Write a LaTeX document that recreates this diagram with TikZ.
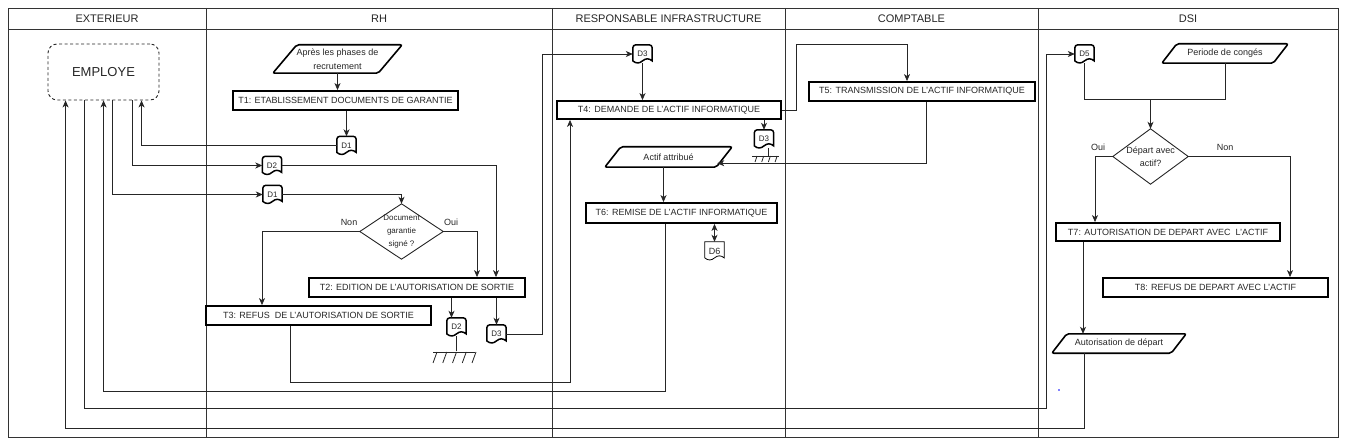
\documentclass[tikz,border=0pt]{standalone}
\usepackage{fontspec}
\setmainfont{Liberation Sans}
\usetikzlibrary{arrows.meta,calc}
\newcommand\docfrm[3][]{%
 \draw[docfr,#1] let \p1=(#2.north west), \p2=(#2.south east), \n1={\y1-\y2}, \n2={\x2-\x1}, \n3={0.25*\n1} in
  (\x1,{\y2+0.5*\n3}) [rounded corners=#3] -- (\x1,\y1) -- (\x2,\y1) [sharp corners] -- (\x2,{\y2+0.5*\n3})
  .. controls ({\x2-\n2/6},{\y2+1.1*\n3}) and ({\x1+\n2/2+\n2/6},{\y2+1.1*\n3}) .. ({\x1+\n2/2},{\y2+0.5*\n3})
  .. controls ({\x1+\n2/3},{\y2-0.1*\n3}) and ({\x1+\n2/6},{\y2-0.1*\n3}) .. (\x1,{\y2+0.5*\n3}) -- cycle;}
\newcommand\iofrm[2]{\draw[iofr] (#1.south west) -- ([xshift=-#2pt]#1.south east) -- (#1.north east) -- ([xshift=#2pt]#1.north west) -- cycle;}
\newcommand\diafrm[1]{\draw[diafr] (#1.north) -- (#1.east) -- (#1.south) -- (#1.west) -- cycle;}
\begin{document}
\begin{tikzpicture}[x=1pt,y=-1pt,
  lane/.style={draw=black!80,line width=0.9pt},
  hdr/.style={font=\fontsize{11}{13}\selectfont,text=black!85},
  task/.style={draw=black,line width=1.8pt,minimum height=19pt,inner sep=0pt,font=\fontsize{9}{10}\selectfont,text=black!85},
  ionode/.style={inner sep=0pt,font=\fontsize{9}{13.5}\selectfont,align=center,text=black!85},
  iofr/.style={draw=black,line width=1.6pt,rounded corners=2pt},
  diafr/.style={draw=black!85,line width=0.9pt},
  docnode/.style={inner sep=0pt,minimum width=19pt,minimum height=18pt,font=\fontsize{8}{9}\selectfont,text=black!85},
  docfr/.style={draw=black,line width=1.5pt},
  conn/.style={draw=black!85,line width=0.8pt},
  arr/.style={conn,-{Stealth[length=7pt,width=6pt,inset=2pt]}},
  lbl/.style={font=\fontsize{9}{10}\selectfont,text=black!85},
]
\useasboundingbox (0,0) rectangle (1348,446);
% frame and lanes
\draw[lane] (8,8) rectangle (1338,437);
\draw[lane] (8,29) -- (1338,29);
\foreach \x in {206,552,785,1038} \draw[lane] (\x,8) -- (\x,437);
\node[hdr] (h1) at (107,18.5) {EXTERIEUR};
\node[hdr] (h2) at (379,18.5) {RH};
\node[hdr] (h3) at (668.5,18.5) {RESPONSABLE INFRASTRUCTURE};
\node[hdr] (h4) at (911.5,18.5) {COMPTABLE};
\node[hdr] (h5) at (1188,18.5) {DSI};
% employe
\node[draw=black!85,dash pattern=on 3pt off 2.5pt,rounded corners=9pt,line width=0.9pt,minimum width=111pt,minimum height=56pt,font=\fontsize{13}{15}\selectfont,text=black!85] (emp) at (103.5,72) {EMPLOYE};
% tasks
\node[task,minimum width=225pt] (t1) at (345.5,100.5) {T1: ETABLISSEMENT DOCUMENTS DE GARANTIE};
\node[task,minimum width=216pt] (t2) at (417,287.5) {T2: EDITION DE L'AUTORISATION DE SORTIE};
\node[task,minimum width=225pt] (t3) at (318.5,315.5) {T3: REFUS\ \ DE L'AUTORISATION DE SORTIE};
\node[task,minimum width=224pt,minimum height=18pt] (t4) at (669,110) {T4: DEMANDE DE L'ACTIF INFORMATIQUE};
\node[task,minimum width=226pt] (t5) at (922,91.5) {T5: TRANSMISSION DE L'ACTIF INFORMATIQUE};
\node[task,minimum width=191pt,minimum height=20pt] (t6) at (681.5,213) {T6: REMISE DE L'ACTIF INFORMATIQUE};
\node[task,minimum width=224pt,minimum height=18pt] (t7) at (1168,232) {T7: AUTORISATION DE DEPART AVEC\ \ L'ACTIF};
\node[task,minimum width=225pt] (t8) at (1215.5,287.5) {T8: REFUS DE DEPART AVEC L'ACTIF};
% io
\node[ionode,minimum width=129pt,minimum height=28pt] (apres) at (337.5,59) {Après les phases de\\recrutement}; \iofrm{apres}{24}
\node[ionode,minimum width=127pt,minimum height=20pt] (actif) at (668.5,157) {Actif attribué}; \iofrm{actif}{16}
\node[ionode,minimum width=126pt,minimum height=19pt] (periode) at (1225,53.5) {Periode de congés}; \iofrm{periode}{15}
\node[ionode,minimum width=134pt,minimum height=19pt] (autor) at (1119,343.5) {Autorisation de départ}; \iofrm{autor}{15}
% decisions
\node[ionode,font=\fontsize{8}{13}\selectfont,minimum width=83pt,minimum height=55pt] (dg) at (401.5,231.5) {Document\\garantie\\signé ?}; \diafrm{dg}
\node[ionode,minimum width=75pt,minimum height=55pt] (dd) at (1150.5,156.5) {Départ avec\\actif?}; \diafrm{dd}
% documents
\node[docnode] (d1a) at (346.5,145.5) {D1}; \docfrm{d1a}{3pt}
\node[docnode] (d2a) at (272,165.5) {D2}; \docfrm{d2a}{3pt}
\node[docnode] (d1b) at (272.5,194.5) {D1}; \docfrm{d1b}{3pt}
\node[docnode] (d2b) at (456.5,327) {D2}; \docfrm{d2b}{3pt}
\node[docnode] (d3b) at (496.5,334) {D3}; \docfrm{d3b}{3pt}
\node[docnode] (d3a) at (642.5,54) {D3}; \docfrm{d3a}{3pt}
\node[docnode] (d3c) at (764,139) {D3}; \docfrm{d3c}{3pt}
\node[docnode] (d5) at (1084.5,54) {D5}; \docfrm{d5}{3pt}
\node[docnode,font=\fontsize{9}{10}\selectfont] (d6) at (714.5,251) {D6}; \docfrm[line width=0.8pt]{d6}{0pt}
% archive symbols
\draw[conn] (d2b.south) -- ++(0,15);
\draw[conn] (433,352) -- (475,352);
\foreach \i in {0,...,4} \draw[conn] ({437+9.75*\i},352) -- ++(-4,11);
\draw[conn] ([xshift=4pt]d3c.south) -- ++(0,8);
\draw[conn] (752,156) -- (779,156);
\foreach \i in {0,...,3} \draw[conn] ({757+6.7*\i},156) -- ++(-2,6);
% labels
\node[lbl] (lnon1) at (349,222) {Non};
\node[lbl] (loui1) at (451,222) {Oui};
\node[lbl] (loui2) at (1098,147) {Oui};
\node[lbl] (lnon2) at (1225,147) {Non};
% connectors
\draw[arr] (apres) -- (apres |- t1.north);
\draw[arr] (d1a |- t1.south) -- (d1a.north);
\draw[arr] (d1a.west) -| ([xshift=94pt]emp.south west);
\draw[arr] ([xshift=85pt]emp.south west) |- (d2a.west);
\draw[arr] ([xshift=65pt]emp.south west) |- (d1b.west);
\draw[arr] (d1b.east) -| (dg.north);
\draw[arr] (d2a.east) -| ([xshift=79pt]t2.north);
\draw[arr] (dg.west) -| ([xshift=-56.5pt]t3.north);
\draw[arr] (dg.east) -| ([xshift=60pt]t2.north);
\draw[arr] ([xshift=-5pt]d2b.north |- t2.south) -- ([xshift=-5pt]d2b.north);
\draw[arr] (d3b.north |- t2.south) -- (d3b.north);
\draw[arr] (d3b.east) -- ++(36,0) |- (d3a.west);
\draw[arr] (d3a.south) -- (d3a.south |- t4.north);
\draw[arr] ([xshift=-28.5pt]t3.south) -- ++(0,56) -| ([xshift=-99pt]t4.south);
\draw[arr] (t4.east) -- ++(14,0) -- ++(0,-66) -| ([xshift=-15pt]t5.north);
\draw[arr] (d3c.north |- t4.south) -- (d3c.north);
\coordinate (actin) at ($(actif.south east)+(-15,-4)$);
\draw[arr] ([xshift=4pt]t5.south) |- (actin);
\draw[arr] ([xshift=-5pt]actif.south) -- ([xshift=-5pt]actif.south |- t6.north);
\draw[conn,{Stealth[length=7pt,width=6pt,inset=2pt]}-{Stealth[length=7pt,width=6pt,inset=2pt]}] (d6.north |- t6.south) -- (d6.north);
\draw[arr] ([xshift=-16.5pt]t6.south) -- ++(0,167) -| ([xshift=56pt]emp.south west);
\draw[arr] ([xshift=37pt]emp.south west) -- ++(0,308) -| ([xshift=-28pt]d5.west) -- (d5.west);
\path (dd.north) ++(0,-29) coordinate (merge);
\draw[conn] (d5.south) |- (merge) -| (periode.south);
\draw[arr] (merge) -- (dd.north);
\draw[arr] (dd.west) -| ([xshift=-73pt]t7.north);
\draw[arr] (dd.east) -| ([xshift=74.5pt]t8.north);
\draw[arr] ([xshift=-85pt]t7.south) -- ([xshift=-85pt]t7.south |- autor.north);
\draw[arr] ([xshift=-35pt]autor.south) -- ++(0,75) -| ([xshift=18pt]emp.south west);
\fill[blue] (1059,390) circle (0.8pt);
\end{tikzpicture}
\end{document}
